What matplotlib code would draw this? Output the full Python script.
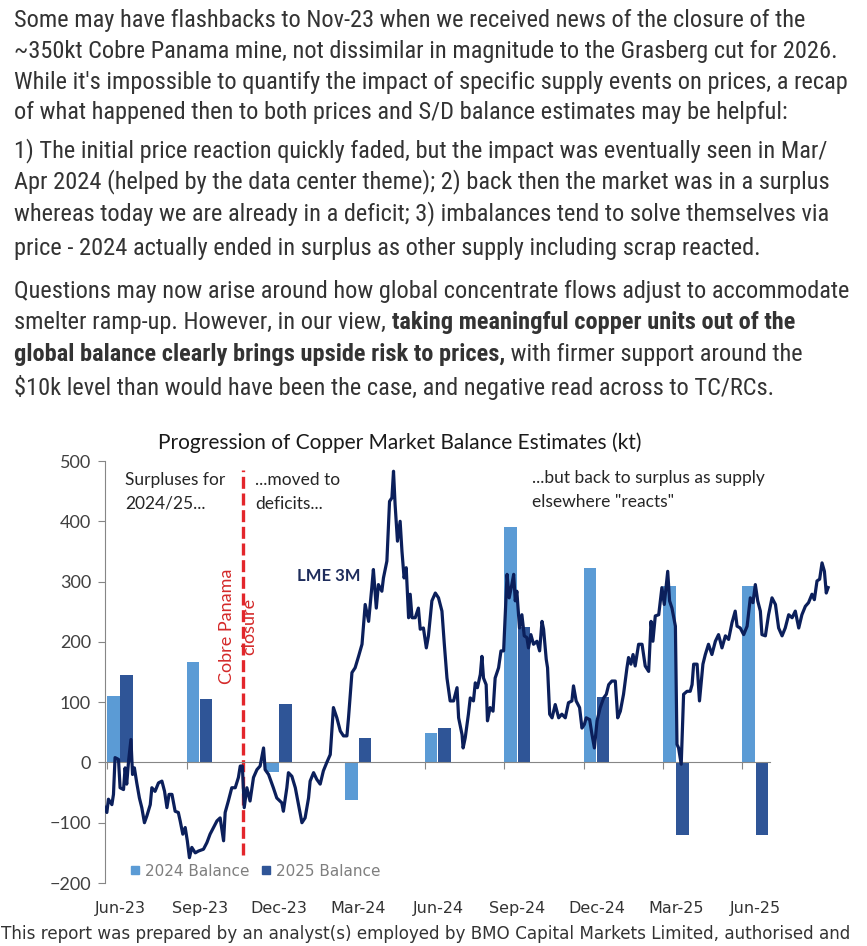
import numpy as np
import matplotlib
matplotlib.use('Agg')
import matplotlib.pyplot as plt
from matplotlib import font_manager
from matplotlib.font_manager import FontProperties
from matplotlib.lines import Line2D

W, H = 867, 946

# bar categories, one pair every quarter starting Jun-23
quarters = ['Jun-23', 'Sep-23', 'Dec-23', 'Mar-24', 'Jun-24', 'Sep-24', 'Dec-24', 'Mar-25', 'Jun-25']
bal_2024 = [110, 166, -16, -62, 49, 390, 323, 293, 293]
bal_2025 = [145, 106, 97, 41, 57, 224, 108, -120, -120]

# LME 3M price in left-axis units; t = months since 1-Jun-23
lme_t = [-0.14, -0.01, 0.05, 0.18, 0.24, 0.30, 0.43, 0.49, 0.62, 0.68, 0.74, 0.81, 0.90, 0.96,
         1.03, 1.12, 1.22, 1.31, 1.41, 1.50, 1.63, 1.69, 1.81, 1.94, 2.07, 2.17, 2.26, 2.34,
         2.45, 2.57, 2.69, 2.76, 2.86, 2.95, 3.03, 3.11, 3.20, 3.33, 3.45, 3.64, 3.77, 3.89,
         4.02, 4.15, 4.27, 4.40, 4.46, 4.58, 4.71, 4.84, 4.96, 5.03, 5.11, 5.18, 5.28, 5.40,
         5.53, 5.66, 5.78, 5.91, 5.97, 6.10, 6.28, 6.41, 6.60, 6.66, 6.79, 6.85, 6.98, 7.11,
         7.23, 7.36, 7.48, 7.61, 7.67, 7.80, 7.92, 8.05, 8.17, 8.30, 8.43, 8.55, 8.68, 8.81,
         8.93, 9.06, 9.12, 9.25, 9.37, 9.50, 9.63, 9.75, 9.88, 10.00, 10.06, 10.17, 10.25,
         10.38, 10.44, 10.57, 10.67, 10.76, 10.82, 10.88, 10.97, 11.07, 11.14, 11.22, 11.30,
         11.39, 11.45, 11.52, 11.64, 11.76, 11.83, 11.95, 12.06, 12.14, 12.27, 12.40, 12.52,
         12.65, 12.74, 12.84, 12.96, 13.09, 13.22, 13.28, 13.41, 13.45, 13.53, 13.65, 13.72,
         13.84, 13.91, 13.99, 14.10, 14.16, 14.22, 14.32, 14.37, 14.47, 14.58, 14.66, 14.79,
         14.88, 14.98, 15.04, 15.11, 15.19, 15.29, 15.36, 15.42, 15.48, 15.58, 15.67, 15.76,
         15.86, 15.92, 16.01, 16.11, 16.24, 16.34, 16.43, 16.49, 16.59, 16.64, 16.72, 16.81,
         16.93, 17.06, 17.18, 17.31, 17.43, 17.56, 17.62, 17.72, 17.85, 17.94, 18.03, 18.10,
         18.23, 18.32, 18.41, 18.51, 18.63, 18.76, 18.86, 18.95, 19.07, 19.20, 19.29, 19.39,
         19.51, 19.64, 19.70, 19.79, 19.87, 19.95, 20.08, 20.21, 20.33, 20.46, 20.55, 20.62,
         20.71, 20.84, 20.96, 21.05, 21.18, 21.25, 21.34, 21.47, 21.53, 21.59, 21.69, 21.78,
         21.91, 22.03, 22.10, 22.16, 22.29, 22.38, 22.51, 22.60, 22.72, 22.85, 22.98, 23.10,
         23.23, 23.36, 23.48, 23.61, 23.73, 23.80, 23.92, 24.05, 24.18, 24.30, 24.40, 24.49,
         24.58, 24.68, 24.74, 24.87, 24.99, 25.12, 25.25, 25.37, 25.50, 25.62, 25.75, 25.88,
         26.00, 26.13, 26.25, 26.38, 26.50, 26.63, 26.72, 26.82, 26.92, 27.01, 27.10, 27.17,
         27.24]
lme_v = [-70, -83, -61, -70, -53, 8, 5, -42, -45, -9, -36, 2, 38, -20,
         -9, -34, -59, -75, -100, -89, -70, -42, -48, -34, -31, -48, -75, -53,
         -53, -81, -83, -97, -119, -108, -130, -158, -141, -150, -147, -144, -133, -119,
         -108, -97, -92, -130, -83, -64, -42, -42, -25, -6, -6, -75, -42, -64,
         -25, -12, -6, 24, -12, -20, -42, -59, -67, -81, -42, -17, -23, -42,
         -70, -100, -92, -59, -31, -17, -28, -36, -14, 0, 13, 91, 74, 52,
         44, 44, 74, 149, 157, 176, 196, 262, 234, 290, 320, 256, 295,
         284, 306, 334, 433, 439, 483, 428, 367, 400, 350, 306, 323,
         240, 279, 240, 240, 256, 221, 223, 190, 210, 268, 281, 273,
         251, 196, 140, 102, 102, 124, 74, 46, 24, 41, 80, 107,
         102, 132, 124, 146, 176, 140, 129, 69, 91, 85, 140, 157,
         185, 185, 245, 312, 273, 295, 312, 268, 284, 223, 245, 210,
         207, 190, 212, 196, 201, 185, 234, 221, 171, 157, 80, 74,
         96, 74, 80, 74, 99, 102, 127, 102, 91, 57, 63, 74,
         71, 46, 24, 69, 91, 107, 113, 129, 135, 135, 74, 85,
         113, 157, 174, 163, 179, 160, 196, 196, 160, 151, 234, 201,
         243, 245, 290, 262, 317, 268, 256, 226, 30, 24, -3, 113,
         118, 118, 129, 163, 163, 102, 163, 179, 196, 179, 201, 212,
         190, 210, 204, 232, 251, 226, 223, 212, 226, 273, 265, 295,
         268, 251, 212, 210, 245, 273, 262, 223, 210, 223, 245, 240,
         251, 223, 245, 259, 265, 279, 270, 301, 304, 331, 317, 281,
         290]
closure_t = 5.13

title = 'Progression of Copper Market Balance Estimates (kt)'
note_left = 'Surpluses for\n2024/25...'
note_mid = '...moved to\ndeficits...'
note_right = '...but back to surplus as supply\nelsewhere "reacts"'
closure_label = 'Cobre Panama\nclosure'

# commentary above the chart: (y centre in px, [(segment, bold), ...])
body = [
    (20, [('Some may have flashbacks to Nov-23 when we received news of the closure of the', False)]),
    (51, [('~350kt Cobre Panama mine, not dissimilar in magnitude to the Grasberg cut for 2026.', False)]),
    (82, [("While it's impossible to quantify the impact of specific supply events on prices, a recap", False)]),
    (113, [('of what happened then to both prices and S/D balance estimates may be helpful:', False)]),
    (151, [('1) The initial price reaction quickly faded, but the impact was eventually seen in Mar/', False)]),
    (182, [('Apr 2024 (helped by the data center theme); 2) back then the market was in a surplus', False)]),
    (214, [('whereas today we are already in a deficit; 3) imbalances tend to solve themselves via', False)]),
    (248, [('price - 2024 actually ended in surplus as other supply including scrap reacted.', False)]),
    (291, [('Questions may now arise around how global concentrate flows adjust to accommodate', False)]),
    (323, [('smelter ramp-up. However, in our view, ', False),
           ('taking meaningful copper units out of the', True)]),
    (355, [('global balance clearly brings upside risk to prices,', True),
           (' with firmer support around the', False)]),
    (387, [('$10k level than would have been the case, and negative read across to TC/RCs.', False)]),
]
footer = 'This report was prepared by an analyst(s) employed by BMO Capital Markets Limited, authorised and'

installed = {f.name for f in font_manager.fontManager.ttflist}


def pick(*names):
    for n in names:
        if n in installed:
            return n
    return 'DejaVu Sans'


def as_weight(w):
    if isinstance(w, str):
        return font_manager.weight_dict.get(w, 400)
    return w


def narrow_files():
    # the commentary is set in a condensed face; look for any narrow/condensed font on disk
    groups = {}
    for f in font_manager.fontManager.ttflist:
        key = (f.fname + ' ' + f.name).lower()
        if not ('narrow' in key or 'condensed' in key):
            continue
        base = f.fname.lower().rsplit('/', 1)[-1]
        if 'extra' in base or 'semi' in base or 'ultra' in base or f.style != 'normal':
            continue
        groups.setdefault(f.name, {})[as_weight(f.weight)] = f.fname
    order = ['Liberation Sans Narrow', 'Noto Sans', 'Open Sans', 'Roboto Condensed', 'DejaVu Sans']
    names = sorted(groups, key=lambda n: order.index(n) if n in order else len(order))
    for n in names:
        g = groups[n]
        reg = g.get(400)
        bold = g.get(700)
        if reg and bold:
            return reg, bold
    return None


nf = narrow_files()
if nf:
    body_reg = FontProperties(fname=nf[0])
    body_bold = FontProperties(fname=nf[1])
else:
    body_reg = FontProperties(family=pick('Roboto', 'Open Sans'))
    body_bold = FontProperties(family=pick('Roboto', 'Open Sans'), weight='bold')

CHART_FONT = pick('Lato', 'Open Sans')
plt.rcParams['font.family'] = [CHART_FONT, 'DejaVu Sans']


def fx(px):
    return px / W


def fy(py):
    return 1 - py / H


fig = plt.figure(figsize=(W / 100, H / 100), dpi=100)
renderer = fig.canvas.get_renderer()


def width_of(s, fp):
    t = fig.text(0, 0, s, fontproperties=fp)
    w = t.get_window_extent(renderer).width
    t.remove()
    return w


# size the commentary so the first line spans the same width as the source
probe = body_reg.copy()
probe.set_size(10)
body_size = 10 * 785 / width_of(body[0][1][0][0], probe)
body_reg.set_size(body_size)
body_bold.set_size(body_size)
for y, parts in body:
    x = 14
    for seg, bold in parts:
        t = fig.text(fx(x), fy(y), seg, fontproperties=body_bold if bold else body_reg,
                     color='#333333', va='center')
        x += t.get_window_extent(renderer).width

foot_fp = FontProperties(family='DejaVu Sans', size=10)
foot_fp.set_size(10 * 850 / width_of(footer, foot_fp))
fig.text(fx(1), fy(934), footer, fontproperties=foot_fp, color='#333333', va='center')

# chart
ax = fig.add_axes([fx(105), fy(883), (835 - 105) / W, (883 - 461) / H])
ax.set_xlim(-0.08, 27.5)
ax.set_ylim(-200, 500)

qx = np.arange(len(quarters)) * 3
ax.bar(qx + 0.24, bal_2024, width=0.47, color='#5B9BD5', zorder=2)
ax.bar(qx + 0.74, bal_2025, width=0.47, color='#2F5597', zorder=2)
ax.plot(lme_t, lme_v, color='#0B1F5B', lw=2.3, zorder=4, solid_joinstyle='round')
ax.axvline(closure_t, ymin=0.066, ymax=0.979, color='#E3262B', lw=2.4, dashes=(3.6, 1.4), zorder=3)

for s in ['top', 'right']:
    ax.spines[s].set_visible(False)
ax.spines['left'].set_color('#868686')
ax.spines['bottom'].set_color('#868686')
ax.spines['bottom'].set_position(('data', 0))
ax.spines['bottom'].set_bounds(-0.08, 25.06)
ax.spines['bottom'].set_zorder(3)

ax.set_xticks(qx)
ax.tick_params(axis='x', length=5, color='#868686', labelbottom=False)
ax.set_yticks(range(-200, 501, 100))
ax.tick_params(axis='y', length=5, color='#868686', labelsize=13, labelcolor='#404040', pad=5)

sec = ax.secondary_xaxis('bottom')
sec.set_xticks(qx + 0.5, labels=quarters)
sec.tick_params(length=0, pad=13, labelsize=11.5, labelcolor='#333333')
sec.spines['bottom'].set_visible(False)
for lab in sec.get_xticklabels():
    lab.set_fontfamily('DejaVu Sans')

handles = [Line2D([], [], marker='s', ls='', color='#5B9BD5', markersize=5.5),
           Line2D([], [], marker='s', ls='', color='#2F5597', markersize=5.5)]
ax.legend(handles, ['2024 Balance', '2025 Balance'], loc='center left',
          bbox_to_anchor=((130 - 105) / 730, (883 - 871) / 422), frameon=False, ncol=2,
          prop={'family': 'DejaVu Sans', 'size': 11}, labelcolor='#7f7f7f',
          handlelength=0.7, handletextpad=0.3, columnspacing=0.7, borderpad=0, borderaxespad=0)

# titles and notes
fig.text(fx(400), fy(443), title, ha='center', va='center', fontsize=15, color='#1a1a1a')
fig.text(fx(125), fy(492), note_left, va='center', fontsize=12.5, color='#262626', linespacing=1.55)
fig.text(fx(255), fy(492), note_mid, va='center', fontsize=12.5, color='#262626', linespacing=1.55)
fig.text(fx(532), fy(490), note_right, va='center', fontsize=12.5, color='#262626', linespacing=1.55)
fig.text(fx(297), fy(576), 'LME 3M', va='center', fontsize=12, weight='bold', color='#1F2D5C')
fig.text(fx(238), fy(684), closure_label, rotation=90, ha='center', va='bottom',
         fontsize=13, color='#D42A2A', linespacing=1.45)

fig.savefig('out.png', dpi=100)
